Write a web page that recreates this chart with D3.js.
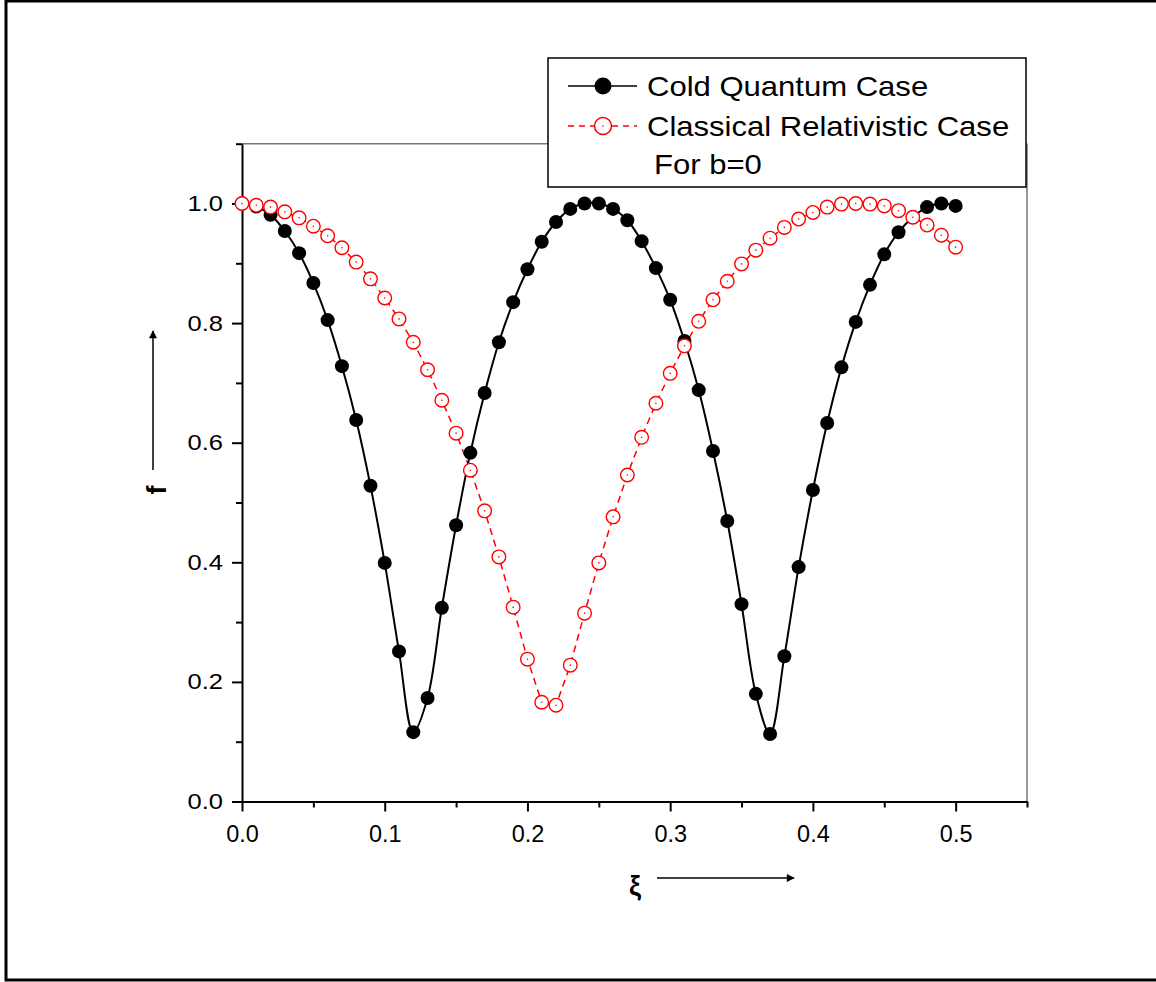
<!DOCTYPE html>
<html>
<head>
<meta charset="utf-8">
<script src="https://cdn.jsdelivr.net/npm/d3@7"></script>
<style>
  body { margin: 0; background: #fff; }
  text { font-family: "Liberation Sans", Arial, sans-serif; }
</style>
</head>
<body>
<svg></svg>
<script>
// Data

let xiValues = [0.00, 0.01, 0.02, 0.03, 0.04, 0.05, 0.06, 0.07, 0.08, 0.09,
                0.10, 0.11, 0.12, 0.13, 0.14, 0.15, 0.16, 0.17, 0.18, 0.19,
                0.20, 0.21, 0.22, 0.23, 0.24, 0.25, 0.26, 0.27, 0.28, 0.29,
                0.30, 0.31, 0.32, 0.33, 0.34, 0.35, 0.36, 0.37, 0.38, 0.39,
                0.40, 0.41, 0.42, 0.43, 0.44, 0.45, 0.46, 0.47, 0.48, 0.49, 0.50]

let coldQuantum = [1.000, 0.995, 0.981, 0.954, 0.917, 0.867, 0.805, 0.728, 0.638, 0.528,
                   0.399, 0.251, 0.116, 0.173, 0.324, 0.462, 0.583, 0.683, 0.768, 0.835,
                   0.890, 0.936, 0.969, 0.991, 1.000, 1.000, 0.991, 0.972, 0.937, 0.892,
                   0.839, 0.770, 0.688, 0.586, 0.469, 0.330, 0.180, 0.113, 0.243, 0.392,
                   0.521, 0.633, 0.726, 0.802, 0.864, 0.915, 0.952, 0.977, 0.994, 1.000, 0.996]

let classicalRel = [1.000, 0.997, 0.994, 0.986, 0.976, 0.962, 0.946, 0.926, 0.902, 0.874,
                    0.842, 0.807, 0.768, 0.722, 0.671, 0.616, 0.554, 0.486, 0.409, 0.325,
                    0.238, 0.166, 0.161, 0.228, 0.315, 0.399, 0.476, 0.546, 0.609, 0.666,
                    0.716, 0.762, 0.803, 0.839, 0.870, 0.899, 0.922, 0.942, 0.960, 0.974,
                    0.985, 0.994, 0.999, 1.000, 0.999, 0.996, 0.988, 0.977, 0.964, 0.947, 0.927]

let xTicks = [0.0, 0.1, 0.2, 0.3, 0.4, 0.5]
let xMinorTicks = [0.05, 0.15, 0.25, 0.35, 0.45, 0.55]
let yTicks = [0.0, 0.2, 0.4, 0.6, 0.8, 1.0]
let yMinorTicks = [0.1, 0.3, 0.5, 0.7, 0.9, 1.1]

let legendLabels = ['Cold Quantum Case', 'Classical Relativistic Case', 'For b=0']

// Canvas

let width = 1156
let height = 982

let svg = d3.select('svg')
    .attr('width', width)
    .attr('height', height)

// outer frame
svg.append('rect')
    .attr('x', 6)
    .attr('y', 1)
    .attr('width', width + 20)
    .attr('height', 979)
    .attr('fill', 'none')
    .attr('stroke', '#000')
    .attr('stroke-width', 3)

// Scales

let xScale = d3.scaleLinear()
                .domain([0, 0.55])
                .range([242, 1027])

let yScale = d3.scaleLinear()
                .domain([0, 1.1])
                .range([801.5, 143.7])

// gray top and right spines
svg.append('line')
    .attr('x1', xScale(0)).attr('x2', xScale(0.55))
    .attr('y1', yScale(1.1)).attr('y2', yScale(1.1))
    .attr('stroke', '#777').attr('stroke-width', 1.5)

svg.append('line')
    .attr('x1', xScale(0.55)).attr('x2', xScale(0.55))
    .attr('y1', yScale(1.1)).attr('y2', yScale(0))
    .attr('stroke', '#777').attr('stroke-width', 1.5)

// Axes

let xAxis = d3.axisBottom(xScale)
                .tickValues(xTicks)
                .tickFormat(d3.format('.1f'))
                .tickSize(10)
                .tickSizeOuter(0)

let gx = svg.append('g')
    .attr('transform', 'translate(0,' + yScale(0) + ')')
    .call(xAxis)

gx.selectAll('.tick text')
    .attr('font-size', 23)
    .attr('y', 0)
    .attr('dy', 0)
    .attr('transform', 'translate(0,40) scale(1.02,1)')
    .attr('fill', '#000')

svg.append('g')
    .attr('transform', 'translate(0,' + yScale(0) + ')')
    .call(d3.axisBottom(xScale).tickValues(xMinorTicks).tickSize(6).tickSizeOuter(0).tickFormat(''))
    .select('.domain').remove()

let yAxis = d3.axisLeft(yScale)
                .tickValues(yTicks)
                .tickFormat(d3.format('.1f'))
                .tickSize(10)
                .tickSizeOuter(0)

let gy = svg.append('g')
    .attr('transform', 'translate(' + xScale(0) + ',0)')
    .call(yAxis)

gy.selectAll('.tick text')
    .attr('font-size', 22)
    .attr('x', 0)
    .attr('transform', 'translate(-19,0) scale(1.16,1)')
    .attr('fill', '#000')

svg.append('g')
    .attr('transform', 'translate(' + xScale(0) + ',0)')
    .call(d3.axisLeft(yScale).tickValues(yMinorTicks).tickSize(6).tickSizeOuter(0).tickFormat(''))
    .select('.domain').remove()

svg.selectAll('.domain').attr('stroke-width', 2)
svg.selectAll('.tick line').attr('stroke-width', 2)

// Lines

let quantumLine = d3.line()
    .x((d, i) => xScale(xiValues[i]))
    .y((d) => yScale(d))
    .curve(d3.curveCatmullRom.alpha(0.5))

let classicalLine = d3.line()
    .x((d, i) => xScale(xiValues[i]))
    .y((d) => yScale(d))

svg.append('path')
    .datum(classicalRel)
    .attr('d', classicalLine)
    .attr('fill', 'none')
    .attr('stroke', '#ff0000')
    .attr('stroke-width', 1.5)
    .attr('stroke-dasharray', '7,5')

svg.append('path')
    .datum(coldQuantum)
    .attr('d', quantumLine)
    .attr('fill', 'none')
    .attr('stroke', '#000')
    .attr('stroke-width', 2)

// Markers

svg.append('g')
    .selectAll('circle')
    .data(coldQuantum)
    .enter()
    .append('circle')
    .attr('cx', (d, i) => xScale(xiValues[i]))
    .attr('cy', (d) => yScale(d))
    .attr('r', 7)
    .attr('fill', '#000')

let redMarks = svg.append('g')
    .selectAll('g')
    .data(classicalRel)
    .enter()
    .append('g')
    .attr('transform', (d, i) => 'translate(' + xScale(xiValues[i]) + ',' + yScale(d) + ')')

redMarks.append('circle')
    .attr('r', 6.8)
    .attr('fill', '#fff')
    .attr('stroke', '#ff0000')
    .attr('stroke-width', 1.4)

redMarks.append('circle')
    .attr('r', 0.8)
    .attr('fill', '#ff0000')

// Axis titles with arrows

let defs = svg.append('defs')
defs.append('marker')
    .attr('id', 'arrow')
    .attr('viewBox', '0 0 10 10')
    .attr('refX', 9)
    .attr('refY', 5)
    .attr('markerWidth', 11)
    .attr('markerHeight', 8)
    .attr('markerUnits', 'userSpaceOnUse')
    .attr('orient', 'auto')
    .append('path')
    .attr('d', 'M0,0 L10,5 L0,10 Z')
    .attr('fill', '#000')

svg.append('text')
    .attr('transform', 'translate(166,490) rotate(-90)')
    .attr('text-anchor', 'middle')
    .attr('font-size', 27)
    .attr('font-weight', 'bold')
    .text('f')

svg.append('line')
    .attr('x1', 153).attr('y1', 470)
    .attr('x2', 153).attr('y2', 331)
    .attr('stroke', '#000').attr('stroke-width', 1.5)
    .attr('marker-end', 'url(#arrow)')

svg.append('text')
    .attr('x', 635)
    .attr('y', 895)
    .attr('text-anchor', 'middle')
    .attr('font-size', 27)
    .attr('font-weight', 'bold')
    .text('ξ')

svg.append('line')
    .attr('x1', 657).attr('y1', 878)
    .attr('x2', 794).attr('y2', 878)
    .attr('stroke', '#000').attr('stroke-width', 1.5)
    .attr('marker-end', 'url(#arrow)')

// Legend

let legend = svg.append('g')

legend.append('rect')
    .attr('x', 548)
    .attr('y', 58)
    .attr('width', 478)
    .attr('height', 129)
    .attr('fill', '#fff')
    .attr('stroke', '#000')
    .attr('stroke-width', 1.5)

legend.append('line')
    .attr('x1', 568).attr('x2', 637)
    .attr('y1', 86).attr('y2', 86)
    .attr('stroke', '#000').attr('stroke-width', 1.5)
legend.append('circle')
    .attr('cx', 603).attr('cy', 86).attr('r', 8.5)
    .attr('fill', '#000')

legend.append('line')
    .attr('x1', 568).attr('x2', 637)
    .attr('y1', 126).attr('y2', 126)
    .attr('stroke', '#ff0000').attr('stroke-width', 1.5)
    .attr('stroke-dasharray', '6,5')
legend.append('circle')
    .attr('cx', 603).attr('cy', 126).attr('r', 8.5)
    .attr('fill', '#fff')
    .attr('stroke', '#ff0000').attr('stroke-width', 1.5)
legend.append('circle')
    .attr('cx', 603).attr('cy', 126).attr('r', 0.8)
    .attr('fill', '#ff0000')

let legendPos = [[647, 96], [647, 136], [654, 174]]

legend.selectAll('text.lab')
    .data(legendLabels)
    .enter()
    .append('text')
    .attr('class', 'lab')
    .attr('transform', (d, i) => 'translate(' + legendPos[i][0] + ',' + legendPos[i][1] + ') scale(1.15,1)')
    .attr('font-size', 27)
    .attr('fill', '#000')
    .text((d) => d)
</script>
</body>
</html>
